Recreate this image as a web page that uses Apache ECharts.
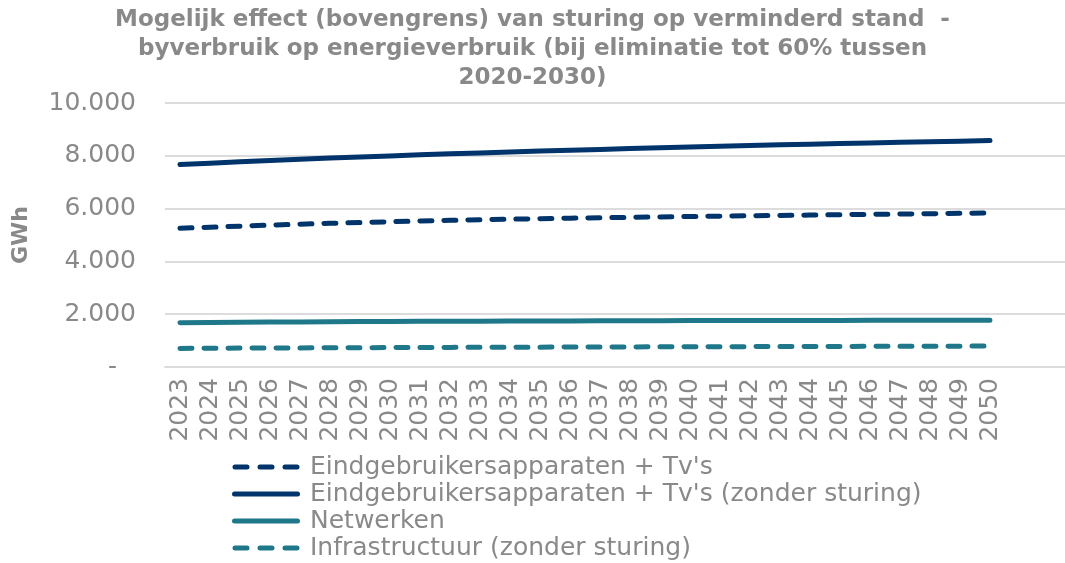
<!DOCTYPE html>
<html>
<head>
<meta charset="utf-8">
<script src="https://cdn.jsdelivr.net/npm/echarts@6/dist/echarts.min.js"></script>
<style>
  html, body { margin: 0; padding: 0; background: #ffffff; }
  #chart { width: 1065px; height: 563px; }
</style>
</head>
<body>
<div id="chart"></div>
<script>
// Years on the category axis
const years = [2023, 2024, 2025, 2026, 2027, 2028, 2029, 2030, 2031, 2032, 2033, 2034, 2035, 2036,
               2037, 2038, 2039, 2040, 2041, 2042, 2043, 2044, 2045, 2046, 2047, 2048, 2049, 2050];

// Energy use per year, GWh
const eindgebruikersMetSturing = [5254, 5296, 5336, 5374, 5410, 5443, 5474, 5503, 5530, 5555, 5578, 5599, 5618, 5636,
                                  5653, 5669, 5685, 5700, 5714, 5728, 5742, 5755, 5768, 5781, 5794, 5807, 5820, 5833];
const eindgebruikersZonderSturing = [7670, 7722, 7772, 7821, 7868, 7913, 7956, 7997, 8036, 8073, 8109, 8144, 8178, 8211,
                                     8243, 8274, 8304, 8333, 8361, 8388, 8414, 8439, 8463, 8487, 8510, 8532, 8554, 8575];
const netwerken = [1680, 1688, 1695, 1702, 1708, 1714, 1719, 1724, 1729, 1733, 1737, 1741, 1744, 1747,
                   1750, 1753, 1755, 1757, 1759, 1761, 1763, 1765, 1766, 1768, 1769, 1770, 1771, 1772];
const infrastructuur = [705, 710, 715, 720, 724, 728, 732, 736, 740, 743, 746, 749, 752, 755,
                        758, 761, 764, 767, 769, 772, 775, 777, 780, 782, 785, 787, 790, 792];

const seriesNames = [
  "Eindgebruikersapparaten + Tv's",
  "Eindgebruikersapparaten + Tv's (zonder sturing)",
  "Netwerken",
  "Infrastructuur (zonder sturing)"
];

const yTicks = { min: 0, max: 10000, interval: 2000 };

const NAVY = '#00346a';
const TEAL = '#1e7889';
const GREY = '#898989';
const FONT = 'DejaVu Sans';

// Legend keys: three rounded dashes, or one rounded bar
const ICON_DASHED = 'path://M2.5,0H14.5A2.5,2.5 0 0 1 14.5,5H2.5A2.5,2.5 0 0 1 2.5,0Z' +
                    'M27.5,0H39.5A2.5,2.5 0 0 1 39.5,5H27.5A2.5,2.5 0 0 1 27.5,0Z' +
                    'M52.5,0H64.5A2.5,2.5 0 0 1 64.5,5H52.5A2.5,2.5 0 0 1 52.5,0Z';
const ICON_SOLID = 'path://M2.5,0H65.5A2.5,2.5 0 0 1 65.5,5H2.5A2.5,2.5 0 0 1 2.5,0Z';

// Thousands separator with a dot, zero shown as a dash
function formatGWh(v) {
  if (v === 0) return '{dash|-}';
  return String(v).replace(/\B(?=(\d{3})+(?!\d))/g, '.');
}

// Two empty slots extend the plot area to the right of 2050
const axisCategories = years.map(String).concat(['', '']);

function lineSeries(name, data, color, dashed) {
  return {
    name: name,
    type: 'line',
    data: data,
    symbol: 'none',
    smooth: false,
    lineStyle: {
      color: color,
      width: 5,
      type: dashed ? [12, 12] : 'solid',
      cap: 'round',
      join: 'round'
    },
    itemStyle: { color: color },
    emphasis: { disabled: true }
  };
}

const chart = echarts.init(document.getElementById('chart'), null, { renderer: 'canvas' });

chart.setOption({
  animation: false,
  backgroundColor: '#ffffff',
  title: {
    text: 'Mogelijk effect (bovengrens) van sturing op verminderd stand  -\nbyverbruik op energieverbruik (bij eliminatie tot 60% tussen\n2020-2030)',
    left: 'center',
    top: 6,
    padding: [0, 0, 0, 33],
    textStyle: {
      fontFamily: FONT,
      fontWeight: 'bold',
      fontSize: 23,
      lineHeight: 29,
      color: GREY
    }
  },
  grid: {
    left: 165,
    right: -10,
    top: 103,
    bottom: 196,
    containLabel: false
  },
  legend: {
    orient: 'vertical',
    left: 232,
    top: 454,
    padding: 0,
    itemWidth: 68,
    itemHeight: 5,
    itemGap: 1,
    data: [
      { name: seriesNames[0], icon: ICON_DASHED },
      { name: seriesNames[1], icon: ICON_SOLID },
      { name: seriesNames[2], icon: ICON_SOLID },
      { name: seriesNames[3], icon: ICON_DASHED }
    ],
    textStyle: {
      fontFamily: FONT,
      fontSize: 25,
      lineHeight: 26,
      color: GREY,
      padding: [0, 0, 0, 5]
    }
  },
  xAxis: {
    type: 'category',
    data: axisCategories,
    boundaryGap: true,
    axisLine: { show: true, lineStyle: { color: '#dcdcdc', width: 2 } },
    axisTick: { show: false },
    axisLabel: {
      interval: 0,
      rotate: 90,
      margin: 11,
      fontFamily: FONT,
      fontSize: 25,
      color: GREY
    },
    splitLine: { show: false }
  },
  yAxis: {
    type: 'value',
    min: yTicks.min,
    max: yTicks.max,
    interval: yTicks.interval,
    name: 'GWh',
    nameLocation: 'middle',
    nameRotate: 90,
    nameGap: 133,
    nameTextStyle: {
      fontFamily: FONT,
      fontWeight: 'bold',
      fontSize: 22,
      color: GREY
    },
    axisLine: { show: false },
    axisTick: { show: false },
    axisLabel: {
      margin: 29,
      fontFamily: FONT,
      fontSize: 25,
      color: GREY,
      formatter: formatGWh,
      rich: {
        dash: { fontFamily: FONT, fontSize: 25, color: GREY, padding: [0, 19, 0, 0] }
      }
    },
    splitLine: { show: true, lineStyle: { color: '#dcdcdc', width: 2 } }
  },
  series: [
    lineSeries(seriesNames[0], eindgebruikersMetSturing, NAVY, true),
    lineSeries(seriesNames[1], eindgebruikersZonderSturing, NAVY, false),
    lineSeries(seriesNames[2], netwerken, TEAL, false),
    lineSeries(seriesNames[3], infrastructuur, TEAL, true)
  ]
});
</script>
</body>
</html>
